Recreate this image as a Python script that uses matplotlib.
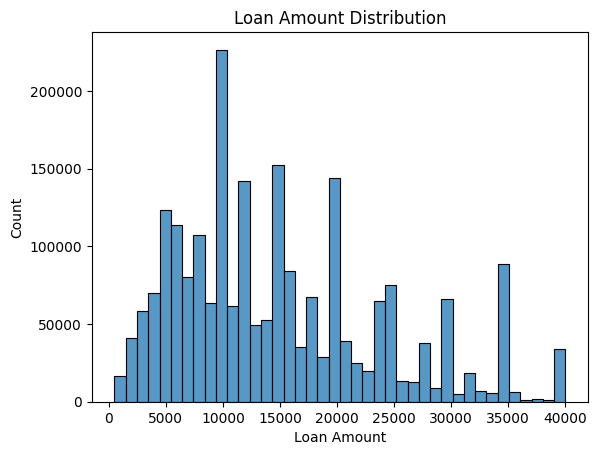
import numpy as np
import matplotlib
matplotlib.use("Agg")
import matplotlib.pyplot as plt
import seaborn as sns

# 40 equal bins between 500 and 40000, counts
bin_lo = 500
bin_hi = 40000
n_bins = 40
counts = [16300, 41100, 58500, 70100, 123600, 114000, 80400, 107500, 63600, 226500,
          61700, 142300, 49400, 52700, 152600, 84300, 35200, 67500, 28800, 144200,
          39100, 24900, 19800, 64900, 75200, 13300, 12700, 37800, 8800, 66200,
          4900, 18500, 6900, 5600, 88800, 6200, 1300, 1900, 1300, 34000]

edges = np.linspace(bin_lo, bin_hi, n_bins + 1)
centers = (edges[:-1] + edges[1:]) / 2

fig, ax = plt.subplots(figsize=(6.4, 4.8))
sns.histplot(x=centers, weights=counts, bins=n_bins, binrange=(bin_lo, bin_hi), ax=ax)
ax.set_title("Loan Amount Distribution")
ax.set_xlabel("Loan Amount")
ax.set_ylabel("Count")
fig.savefig("out.png", dpi=100, bbox_inches="tight")
